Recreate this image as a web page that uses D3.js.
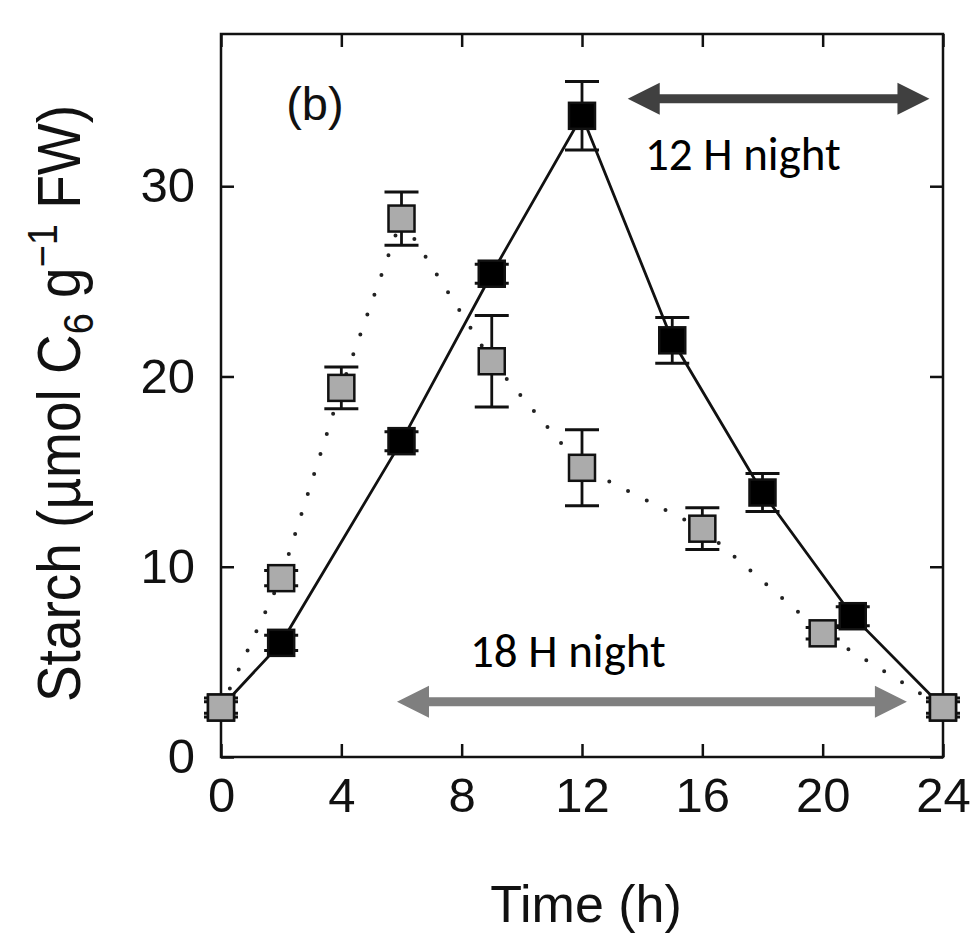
<!DOCTYPE html>
<html>
<head>
<meta charset="utf-8">
<script src="https://cdn.jsdelivr.net/npm/d3@7/dist/d3.min.js"></script>
<style>
  html, body { margin: 0; padding: 0; background: #fff; }
  svg { display: block; }
</style>
</head>
<body>
<svg id="chart" width="974" height="933"></svg>
<script>
// Starch content over a 24 h cycle under two photoperiods
const hoursLong = [0, 2, 6, 9, 12, 15, 18, 21, 24];          // 12 h night (solid)
const starchLong = [2.6, 6.0, 16.6, 25.4, 33.7, 21.9, 13.9, 7.4, 2.6];
const errLong = [0.5, 0.4, 0.5, 0.5, 1.8, 1.2, 1.0, 0.5, 0.5];

const hoursShort = [0, 2, 4, 6, 9, 12, 16, 20, 24];           // 18 h night (dotted)
const starchShort = [2.6, 9.4, 19.4, 28.3, 20.8, 15.2, 12.0, 6.5, 2.6];
const errShort = [0.3, 0.4, 1.1, 1.4, 2.4, 2.0, 1.1, 0.3, 0.3];

const xTicks = [0, 4, 8, 12, 16, 20, 24];
const yTicks = [0, 10, 20, 30];

const svg = d3.select("#chart");
const margin = { left: 221, right: 31, top: 34, bottom: 176 };
const W = 974, H = 933;

const x = d3.scaleLinear().domain([0, 24]).range([margin.left, W - margin.right]);
const y = d3.scaleLinear().domain([0, 38]).range([H - margin.bottom, margin.top]);

const font = "'Liberation Sans', Arial, Helvetica, sans-serif";

// frame
svg.append("rect")
  .attr("x", x(0)).attr("y", y(38))
  .attr("width", x(24) - x(0)).attr("height", y(0) - y(38))
  .attr("fill", "none").attr("stroke", "#111").attr("stroke-width", 2.5);

// inward ticks on all four sides
const tickLen = 13;
const axB = d3.axisBottom(x).tickValues(xTicks).tickSizeInner(-tickLen).tickSizeOuter(0).tickPadding(20);
const axT = d3.axisTop(x).tickValues(xTicks).tickSizeInner(-tickLen).tickSizeOuter(0).tickFormat("");
const axL = d3.axisLeft(y).tickValues(yTicks).tickSizeInner(-tickLen).tickSizeOuter(0).tickPadding(26);
const axR = d3.axisRight(y).tickValues(yTicks).tickSizeInner(-tickLen).tickSizeOuter(0).tickFormat("");

function styleAxis(g) {
  g.select(".domain").remove();
  g.selectAll(".tick line").attr("stroke", "#111").attr("stroke-width", 2.5);
  g.selectAll(".tick text").attr("fill", "#111").style("font-family", font).style("font-size", "49px");
}
svg.append("g").attr("transform", `translate(0,${y(0)})`).call(axB).call(styleAxis);
svg.append("g").attr("transform", `translate(0,${y(38)})`).call(axT).call(styleAxis);
svg.append("g").attr("transform", `translate(${x(0)},0)`).call(axL).call(styleAxis);
svg.append("g").attr("transform", `translate(${x(24)},0)`).call(axR).call(styleAxis);

// axis titles
svg.append("text")
  .attr("x", 586).attr("y", 922)
  .attr("text-anchor", "middle")
  .style("font-family", font).style("font-size", "52px").attr("fill", "#111")
  .text("Time (h)");

const yt = svg.append("text")
  .attr("transform", `translate(80,${(y(0) + y(38)) / 2 + 8}) rotate(-90) scale(1,1.12)`)
  .attr("text-anchor", "middle")
  .style("font-family", font).style("font-size", "55px").attr("fill", "#111");
yt.append("tspan").text("Starch (µmol C");
yt.append("tspan").attr("baseline-shift", "-30%").style("font-size", "38px").text("6");
yt.append("tspan").text(" g");
yt.append("tspan").attr("baseline-shift", "55%").style("font-size", "38px").text("−1");
yt.append("tspan").text(" FW)");

// panel letter
svg.append("text")
  .attr("x", x(3.12)).attr("y", y(33.5))
  .attr("text-anchor", "middle")
  .style("font-family", font).style("font-size", "47px").attr("fill", "#111")
  .text("(b)");

// lines
const line = d3.line().x(d => x(d[0])).y(d => y(d[1]));
const longPts = hoursLong.map((h, i) => [h, starchLong[i]]);
const shortPts = hoursShort.map((h, i) => [h, starchShort[i]]);

svg.append("path").datum(shortPts).attr("d", line)
  .attr("fill", "none").attr("stroke", "#222").attr("stroke-width", 4)
  .attr("stroke-linecap", "round").attr("stroke-dasharray", "0 21");

svg.append("path").datum(longPts).attr("d", line)
  .attr("fill", "none").attr("stroke", "#111").attr("stroke-width", 2.8);

// error bars and square markers
const capW = 17, sq = 26;
function drawSeries(hours, vals, errs, fill) {
  const g = svg.append("g");
  hours.forEach((h, i) => {
    const cx = x(h), lo = y(vals[i] - errs[i]), hi = y(vals[i] + errs[i]);
    g.append("line").attr("x1", cx).attr("x2", cx).attr("y1", lo).attr("y2", hi)
      .attr("stroke", "#111").attr("stroke-width", 2.8);
    [lo, hi].forEach(yy => g.append("line")
      .attr("x1", cx - capW).attr("x2", cx + capW).attr("y1", yy).attr("y2", yy)
      .attr("stroke", "#111").attr("stroke-width", 3));
    g.append("rect")
      .attr("x", cx - sq / 2).attr("y", y(vals[i]) - sq / 2)
      .attr("width", sq).attr("height", sq)
      .attr("fill", fill).attr("stroke", "#111").attr("stroke-width", 2.5);
  });
}
drawSeries(hoursLong, starchLong, errLong, "#000");
drawSeries(hoursShort, starchShort, errShort, "#ababab");

// night-length arrows
function arrow(x0, x1, yv, color) {
  const yy = y(yv), a = x(x0), b = x(x1), head = 32, half = 16, shaft = 4.5;
  svg.append("path")
    .attr("d", `M${a},${yy} L${a + head},${yy - half} L${a + head},${yy - shaft} L${b - head},${yy - shaft} L${b - head},${yy - half} L${b},${yy} L${b - head},${yy + half} L${b - head},${yy + shaft} L${a + head},${yy + shaft} L${a + head},${yy + half} Z`)
    .attr("fill", color);
}
arrow(13.52, 23.55, 34.6, "#404040");
arrow(5.85, 22.8, 2.9, "#7f7f7f");

const noteFont = "Carlito, Lato, 'Open Sans', sans-serif";
svg.append("text").attr("x", 645).attr("y", 170)
  .style("font-family", noteFont).style("font-size", "47px").attr("fill", "#000")
  .text("12 H night");
svg.append("text").attr("x", 470).attr("y", 667)
  .style("font-family", noteFont).style("font-size", "47px").attr("fill", "#000")
  .text("18 H night");
</script>
</body>
</html>
